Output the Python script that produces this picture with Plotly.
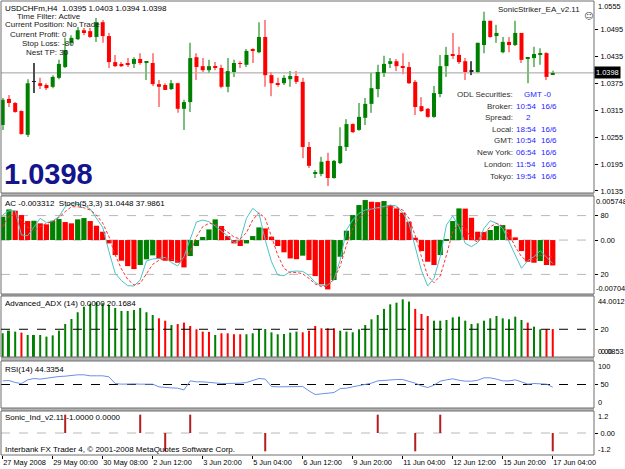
import plotly.graph_objects as go

# ---------------- data ----------------
symbol = "USDCHFm,H4"
O = [1.0282,1.0340,1.0331,1.0313,1.0260,1.0378,1.0375,1.0371,1.0367,1.0387,
     1.0411,1.0465,1.0473,1.0493,1.0491,1.0478,1.0511,1.0480,1.0422,1.0418,
     1.0420,1.0418,1.0429,1.0421,1.0420,1.0373,1.0371,1.0362,1.0375,1.0318,
     1.0333,1.0433,1.0413,1.0404,1.0413,1.0409,1.0367,1.0400,1.0420,1.0416,
     1.0449,1.0444,1.0478,1.0393,1.0375,1.0375,1.0384,1.0391,1.0378,1.0233,
     1.0174,1.0173,1.0202,1.0164,1.0197,1.0233,1.0284,1.0271,1.0298,1.0329,
     1.0362,1.0398,1.0418,1.0424,1.0413,1.0411,1.0378,1.0324,1.0318,1.0300,
     1.0351,1.0413,1.0438,1.0438,1.0424,1.0402,1.0400,1.0460,1.0514,1.0480,
     1.0444,1.0467,1.0460,1.0487,1.0430,1.0431,1.0438,1.0442,1.0395]
H = [1.0342,1.0349,1.0333,1.0315,1.0384,1.0420,1.0387,1.0375,1.0393,1.0427,
     1.0476,1.0482,1.0500,1.0498,1.0498,1.0520,1.0516,1.0487,1.0438,1.0422,
     1.0431,1.0433,1.0442,1.0424,1.0442,1.0382,1.0375,1.0382,1.0376,1.0338,
     1.0465,1.0442,1.0431,1.0427,1.0422,1.0416,1.0431,1.0427,1.0424,1.0451,
     1.0453,1.0511,1.0516,1.0400,1.0387,1.0393,1.0402,1.0402,1.0387,1.0244,
     1.0182,1.0211,1.0220,1.0204,1.0277,1.0295,1.0286,1.0331,1.0342,1.0398,
     1.0416,1.0436,1.0431,1.0429,1.0442,1.0422,1.0382,1.0344,1.0320,1.0369,
     1.0438,1.0456,1.0487,1.0456,1.0431,1.0424,1.0465,1.0534,1.0514,1.0505,
     1.0478,1.0478,1.0514,1.0487,1.0433,1.0456,1.0453,1.0444,1.0403]
L = [1.0271,1.0322,1.0309,1.0260,1.0255,1.0353,1.0362,1.0360,1.0364,1.0384,
     1.0409,1.0460,1.0471,1.0482,1.0476,1.0467,1.0465,1.0409,1.0411,1.0411,
     1.0411,1.0409,1.0416,1.0382,1.0369,1.0322,1.0360,1.0360,1.0309,1.0271,
     1.0311,1.0382,1.0400,1.0398,1.0404,1.0364,1.0355,1.0389,1.0409,1.0411,
     1.0420,1.0442,1.0367,1.0346,1.0367,1.0371,1.0367,1.0373,1.0208,1.0186,
     1.0164,1.0168,1.0146,1.0162,1.0195,1.0224,1.0264,1.0269,1.0282,1.0309,
     1.0344,1.0389,1.0409,1.0402,1.0395,1.0373,1.0304,1.0311,1.0298,1.0298,
     1.0344,1.0389,1.0429,1.0418,1.0382,1.0393,1.0398,1.0442,1.0476,1.0465,
     1.0442,1.0444,1.0458,1.0420,1.0375,1.0411,1.0416,1.0382,1.0394]
C = [1.0338,1.0331,1.0311,1.0262,1.0375,1.0378,1.0369,1.0364,1.0389,1.0418,
     1.0449,1.0476,1.0493,1.0489,1.0478,1.0511,1.0480,1.0422,1.0413,1.0413,
     1.0416,1.0429,1.0420,1.0423,1.0373,1.0367,1.0360,1.0375,1.0318,1.0333,
     1.0431,1.0411,1.0404,1.0413,1.0409,1.0367,1.0402,1.0420,1.0418,1.0447,
     1.0447,1.0478,1.0393,1.0375,1.0373,1.0387,1.0391,1.0378,1.0233,1.0191,
     1.0176,1.0200,1.0164,1.0202,1.0235,1.0284,1.0266,1.0300,1.0329,1.0364,
     1.0400,1.0418,1.0424,1.0413,1.0411,1.0375,1.0322,1.0313,1.0300,1.0353,
     1.0413,1.0438,1.0436,1.0422,1.0400,1.0402,1.0465,1.0514,1.0478,1.0487,
     1.0467,1.0460,1.0487,1.0427,1.0432,1.0440,1.0442,1.0389,1.0398]

ac = [0.00305,0.00400,0.00383,0.00326,0.00248,0.00252,0.00218,0.00205,0.00252,0.00274,
      0.00235,0.00218,0.00270,0.00287,0.00248,0.00187,0.00109,-0.00044,-0.00196,-0.00270,
      -0.00340,-0.00379,-0.00326,-0.00252,-0.00200,-0.00248,-0.00270,-0.00275,-0.00296,-0.00357,
      -0.00209,-0.00078,0.00040,0.00139,0.00270,0.00183,0.00052,-0.00044,-0.00078,-0.00044,
      0.00052,0.00165,0.00152,0.00044,-0.00078,-0.00160,-0.00240,-0.00250,-0.00204,-0.00261,
      -0.00470,-0.00579,-0.00644,-0.00522,-0.00218,0.00122,0.00326,0.00457,0.00522,0.00500,
      0.00495,0.00509,0.00457,0.00413,0.00357,0.00239,0.00030,-0.00144,-0.00283,-0.00326,
      -0.00196,0.00009,0.00248,0.00413,0.00410,0.00291,0.00109,0.00105,0.00131,0.00183,
      0.00196,0.00139,0.00035,-0.00144,-0.00283,-0.00296,-0.00274,-0.00326,-0.003312]
ac_max, ac_min = 0.005748, -0.00704

st_main = [80.6,85.0,85.0,60.2,59.5,68.7,77.2,72.8,74.5,78.9,
           89.0,92.5,91.5,90.5,86.7,77.2,68.0,43.5,21.1,13.6,
           8.5,8.2,14.3,33.7,35.7,36.4,37.4,32.0,28.6,38.1,
           55.1,73.5,75.5,73.8,69.4,64.3,59.2,52.4,55.1,77.2,
           87.4,82.3,55.1,33.0,19.4,18.7,22.8,23.5,23.0,19.0,
           11.6,8.5,9.2,15.0,34.7,65.3,75.5,82.3,85.7,86.7,
           88.0,89.0,90.8,89.8,83.0,72.1,46.6,23.8,8.2,16.0,
           38.1,70.4,79.6,68.7,51.7,48.3,52.4,67.0,74.8,72.1,
           67.0,53.4,39.8,26.2,34.0,38.1,44.2,37.1,31.0448]
st_sig = [68.7,79.5,80.9,75.5,68.0,64.3,68.7,72.1,73.8,78.2,
          84.0,89.0,89.0,88.0,85.7,80.6,72.4,58.5,39.8,25.5,
          15.0,9.2,10.9,20.4,30.3,34.4,36.1,35.4,33.7,34.7,
          43.2,58.5,68.7,72.1,71.0,68.0,62.9,58.2,56.1,62.6,
          75.5,83.0,77.2,58.5,39.8,26.2,21.8,22.1,20.5,16.0,
          10.2,7.5,8.2,15.0,28.6,50.0,67.0,77.9,83.3,86.0,
          87.0,88.4,89.0,88.4,85.7,77.2,59.5,38.1,18.4,11.6,
          18.4,39.8,63.6,71.4,67.0,56.8,52.7,61.2,68.7,72.1,
          69.4,60.9,48.3,38.1,33.0,34.7,39.5,38.1,37.9861]
st_levels = [20, 80]

adx = [17.1,19.0,18.3,17.6,15.9,15.9,15.9,14.7,15.6,19.0,
       23.8,27.4,32.3,36.3,38.3,39.5,38.8,37.5,35.4,33.2,
       33.2,33.9,35.4,32.3,30.3,27.9,26.2,23.1,23.8,24.8,
       22.4,20.0,18.3,18.1,15.9,17.1,17.1,16.4,16.4,16.4,
       17.1,20.2,20.2,17.8,16.4,16.6,17.6,18.3,17.8,19.0,
       22.4,20.7,20.7,20.7,19.0,18.3,17.8,20.0,23.1,27.2,
       30.3,34.7,38.0,39.2,41.6,40.0,34.7,31.0,29.6,26.2,
       26.2,26.7,28.6,29.1,26.2,23.8,24.3,26.2,27.9,29.6,
       27.9,27.2,29.1,26.7,24.8,21.9,20.0,20.0,20.1684]
adx_dir = [1,1,1,-1,1,1,1,1,1,1,
           1,1,1,1,1,1,1,1,1,1,
           1,1,1,1,1,-1,-1,1,-1,-1,
           -1,-1,-1,-1,1,-1,-1,-1,-1,1,
           1,1,1,1,1,1,1,1,-1,-1,
           -1,-1,-1,-1,1,1,1,1,1,1,
           1,1,1,1,1,1,-1,-1,-1,1,
           1,1,1,1,1,1,1,1,1,1,
           1,1,1,1,-1,1,1,-1,-1]
adx_max, adx_min = 44.0012, 0.0853
adx_level = 20

rsi = [57.7,58.5,54.2,52.1,59.9,62.8,61.4,63.5,64.9,67.0,
       67.7,69.9,70.6,70.6,68.5,68.5,68.5,66.3,52.1,50.7,
       51.3,51.3,50.7,51.3,50.7,45.0,43.5,42.8,42.1,38.5,
       57.7,55.7,55.7,54.2,52.8,52.1,52.1,52.1,52.8,54.2,
       59.1,62.8,61.4,45.7,45.0,45.0,45.7,46.4,45.7,36.4,
       28.6,30.1,32.2,32.9,41.4,42.1,45.0,47.1,50.7,52.8,
       57.7,59.1,59.9,60.6,60.6,57.1,52.8,47.1,43.5,48.6,
       57.1,59.9,62.1,59.1,57.1,57.1,59.1,64.2,64.2,61.4,
       57.7,57.7,59.9,55.7,50.7,52.1,52.1,50.7,44.3354]
rsi_level = 50

sonic_idx = [10, 22, 26, 30, 42, 60, 66, 70, 88]
sonic_val = [1, 1, -1, 1, -1, 1, -1, 1, -1]

price_ticks = [1.0495, 1.0435, 1.0375, 1.0315, 1.0255, 1.0195, 1.0135]
price_top_label = 1.0555
tick_bars = [0, 8, 16, 24, 32, 40, 48, 56, 64, 72, 80, 88]
tick_text = ["27 May 2008", "29 May 00:00", "30 May 08:00", "2 Jun 12:00", "3 Jun 20:00",
             "5 Jun 04:00", "6 Jun 12:00", "9 Jun 20:00", "11 Jun 04:00", "12 Jun 12:00",
             "15 Jun 20:00", "17 Jun 04:00"]

ea_lines = ["Time Filter: Active", "Current Position: No Trade", "Current Profit: 0",
            "Stop Loss: -80", "Nest TP: 30"]
clock_labels = ["ODL Securities:", "Broker:", "Spread:", "Local:", "GMT:", "New York:", "London:", "Tokyo:"]
clock_times = ["GMT -0", "10:54", "2", "18:54", "10:54", "06:54", "11:54", "19:54"]
clock_dates = ["", "16/6", "", "16/6", "16/6", "16/6", "16/6", "16/6"]

# ---------------- layout helpers ----------------
W, HT = 625, 469
ML, MR, MT, MB = 1, 31, 1, 14
PW, PH = W - ML - MR, HT - MT - MB


def xp(px):
    return (px - ML) / PW


def yp(py):
    return (HT - MB - py) / PH


def dom(top, bottom):
    return [max(0.0, yp(bottom)), min(1.0, yp(top))]


FONT = "Liberation Sans"
AXF = 7.4
n = len(C)
idx = list(range(n))

GREEN, RED = "#008000", "#ff0000"
GREEN_W, RED_W = "#7cbf7c", "#ff8c8c"

body_col, wick_col = [], []
for o, c in zip(O, C):
    if c > o:
        body_col.append(GREEN); wick_col.append(GREEN_W)
    elif c < o:
        body_col.append(RED); wick_col.append(RED_W)
    else:
        body_col.append("#202020"); wick_col.append("#505050")

fig = go.Figure()

# main candles
fig.add_trace(go.Bar(x=idx, base=L, y=[h - l for h, l in zip(H, L)], width=0.17,
                     marker=dict(color=wick_col, line=dict(width=0)), xaxis="x", yaxis="y",
                     hoverinfo="skip"))
fig.add_trace(go.Bar(x=idx, base=[min(o, c) for o, c in zip(O, C)],
                     y=[max(abs(c - o), 0.00013) for o, c in zip(O, C)], width=0.64,
                     marker=dict(color=body_col, line=dict(width=0)), xaxis="x", yaxis="y"))

# AC histogram
ac_col = [GREEN if (i == 0 or ac[i] > ac[i - 1]) else RED for i in range(n)]
fig.add_trace(go.Bar(x=idx, y=ac, width=0.84, marker=dict(color=ac_col, line=dict(width=0)),
                     xaxis="x", yaxis="y2"))
# Stochastic
fig.add_trace(go.Scatter(x=idx, y=st_main, mode="lines", line=dict(color="#4cc4c4", width=1),
                         xaxis="x", yaxis="y6"))
fig.add_trace(go.Scatter(x=idx, y=st_sig, mode="lines",
                         line=dict(color="#ff3030", width=1, dash="3px,2px"),
                         xaxis="x", yaxis="y6"))
# ADX
fig.add_trace(go.Bar(x=idx, y=adx, width=0.32,
                     marker=dict(color=[GREEN if d > 0 else RED for d in adx_dir], line=dict(width=0)),
                     xaxis="x", yaxis="y3"))
# RSI
fig.add_trace(go.Scatter(x=idx, y=rsi, mode="lines", line=dict(color="#6b8fe8", width=1),
                         xaxis="x", yaxis="y4"))
# Sonic
fig.add_trace(go.Bar(x=sonic_idx, y=sonic_val, width=0.32,
                     marker=dict(color="#b41e1e", line=dict(width=0)), xaxis="x", yaxis="y5"))

# ---------------- axes ----------------
panels = {
    "yaxis": dom(1, 193),
    "yaxis2": dom(196, 294),
    "yaxis3": dom(296, 357),
    "yaxis4": dom(361, 408),
    "yaxis5": dom(411, 455),
}
tickfont = dict(family=FONT, size=AXF, color="#000000")
common_y = dict(side="right", anchor="x", showgrid=False, zeroline=False, ticks="outside",
                ticklen=3, tickcolor="#000000", tickfont=tickfont, showline=False, fixedrange=True,
                automargin=False, ticklabelstandoff=1)

layout = dict(
    width=W, height=HT, margin=dict(l=ML, r=MR, t=MT, b=MB, autoexpand=False),
    paper_bgcolor="white", plot_bgcolor="white", showlegend=False, barmode="overlay",
    xaxis=dict(domain=[0, 1], anchor="y5", range=[-0.27, 94.6], tickvals=tick_bars, ticktext=tick_text,
               ticks="outside", ticklen=3, tickcolor="#000000", tickfont=tickfont, tickangle=0,
               ticklabelposition="outside right", showgrid=False, zeroline=False, showline=False,
               automargin=False, ticklabelstandoff=0),
    yaxis=dict(domain=panels["yaxis"], range=[1.01305, 1.05581], tickvals=price_ticks,
               tickformat=".4f", **common_y),
    yaxis2=dict(domain=panels["yaxis2"], range=[ac_min, ac_max], tickvals=[0], ticktext=["0.00"], **common_y),
    yaxis6=dict(overlaying="y2", range=[0, 100], tickvals=st_levels,
                ticktext=[str(v) for v in st_levels], **common_y),
    yaxis3=dict(domain=panels["yaxis3"], range=[0, adx_max], tickvals=[adx_level],
                ticktext=[str(adx_level)], **common_y),
    yaxis4=dict(domain=panels["yaxis4"], range=[0, 100], tickvals=[rsi_level],
                ticktext=[str(rsi_level)], **common_y),
    yaxis5=dict(domain=panels["yaxis5"], range=[-1.2, 1.2], tickvals=[0], ticktext=["0.00"], **common_y),
)
fig.update_layout(**layout)

shapes = []
order = ["yaxis", "yaxis2", "yaxis3", "yaxis4", "yaxis5"]
for a, b in zip(order[:-1], order[1:]):
    shapes.append(dict(type="rect", xref="paper", yref="paper", x0=0, x1=1,
                       y0=panels[b][1], y1=panels[a][0], fillcolor="#b4b4b4", line=dict(width=0),
                       layer="below"))
for ax in ["y", "y2", "y3", "y4", "y5"]:
    shapes.append(dict(type="rect", xref="x domain", yref=ax + " domain", x0=0, x1=1, y0=0, y1=1,
                       line=dict(color="#6e6e6e", width=1), fillcolor="rgba(0,0,0,0)"))
for v in st_levels:
    shapes.append(dict(type="line", xref="x domain", x0=0, x1=1, yref="y6", y0=v, y1=v,
                       line=dict(color="#b8b8b8", width=1, dash="dash"), layer="below"))
shapes.append(dict(type="line", xref="x domain", x0=0, x1=1, yref="y2", y0=0, y1=0,
                   line=dict(color="#b8b8b8", width=1, dash="dash"), layer="below"))
shapes.append(dict(type="line", xref="x domain", x0=0, x1=1, yref="y3", y0=adx_level, y1=adx_level,
                   line=dict(color="#000000", width=1, dash="dash")))
shapes.append(dict(type="line", xref="x domain", x0=0, x1=1, yref="y4", y0=rsi_level, y1=rsi_level,
                   line=dict(color="#000000", width=1, dash="dash"), layer="below"))
shapes.append(dict(type="line", xref="x domain", x0=0, x1=1, yref="y5", y0=0, y1=0,
                   line=dict(color="#b8b8b8", width=1, dash="dash"), layer="below"))
shapes.append(dict(type="line", xref="x domain", x0=0, x1=1, yref="y", y0=C[-1], y1=C[-1],
                   line=dict(color="#a0a0a0", width=1), layer="below"))
fig.update_layout(shapes=shapes)

ann = []


def txt(text, x, y, size=8, color="#000000", xanchor="left", bold=False, **kw):
    t = f"<b>{text}</b>" if bold else text
    ann.append(dict(text=t, x=x, y=y, xref="paper", yref="paper", xanchor=xanchor, yanchor="middle",
                    showarrow=False, font=dict(family=FONT, size=size, color=color),
                    borderpad=0, **kw))


txt(f"{symbol}  {O[-1]:.4f} {H[-1]:.4f} {L[-1]:.4f} {C[-1]:.4f}", xp(4), yp(8))
ea_pos = [(16, 16), (4, 25), (9, 34), (21, 43.3), (25, 52.7)]
for s, (x0, y0) in zip(ea_lines, ea_pos):
    txt(s, xp(x0), yp(y0), color="#202020")
txt(f"{C[-1]:.4f}", xp(3), yp(174), size=29, color="#14148c", bold=True)
txt("SonicStriker_EA_v2.11", xp(581), yp(9), xanchor="right", color="#202020")
ann.append(dict(text="☺", x=xp(582), y=yp(9), xref="paper", yref="paper", showarrow=False,
                xanchor="left", font=dict(family="DejaVu Sans", size=9, color="#404040")))

row_y = [94.3, 106, 117.7, 129.3, 140.7, 152.7, 164.3, 176]
BLUE = "#2626ff"
for lab, t, d, y0 in zip(clock_labels, clock_times, clock_dates, row_y):
    txt(lab, xp(514), yp(y0), xanchor="right", color="#303030")
    if lab == "ODL Securities:":
        txt(t, xp(523), yp(y0), color=BLUE)
    elif lab == "Spread:":
        txt(t, xp(525), yp(y0), color=BLUE)
    else:
        txt(t, xp(515), yp(y0), color=BLUE)
    if d:
        txt(d, xp(540), yp(y0), color=BLUE)

txt(f"AC {ac[-1]:.6f}  Stoch(5,3,3) {st_main[-1]:.4f} {st_sig[-1]:.4f}", xp(4), yp(203.5))
txt(f"Advanced_ADX (14) 0.0000 {adx[-1]:.4f}", xp(4), yp(303.5))
txt(f"RSI(14) {rsi[-1]:.4f}", xp(4), yp(369))
txt(f"Sonic_Ind_v2.11 {sonic_val[-1]:.4f} 0.0000", xp(4), yp(417.5))
txt("Interbank FX Trader 4, © 2001-2008 MetaQuotes Software Corp.", xp(4), yp(449))


def edge(text, yref, yval, anchor, xshift=3):
    ann.append(dict(text=text, x=1, xref="x domain", y=yval, yref=yref, xanchor="left",
                    yanchor=anchor, xshift=xshift, showarrow=False, font=tickfont, borderpad=0))


edge(f"{price_top_label:.4f}", "y", 1.05581, "top")
edge(f"{ac_max:.6f}", "y2", ac_max, "top", 1)
edge(f"{ac_min:.5f}", "y2", ac_min, "bottom", 1)
edge(f"{adx_max:.4f}", "y3", adx_max, "top")
edge("0.00", "y3", 0, "bottom")
edge(f"{adx_min:.4f}", "y3", 0, "bottom", 6)
edge("100", "y4", 100, "top")
edge("0", "y4", 0, "bottom")
edge("1.2", "y5", 1.2, "top")
edge("-1.2", "y5", -1.2, "bottom")

ann.append(dict(text=f"{C[-1]:.4f}", x=1, xref="x domain", y=C[-1], yref="y", xanchor="left",
                yanchor="middle", showarrow=False, bgcolor="#000000", borderpad=1,
                font=dict(family=FONT, size=AXF, color="#ffffff")))
fig.update_layout(annotations=ann)

fig.write_html("out.html")
